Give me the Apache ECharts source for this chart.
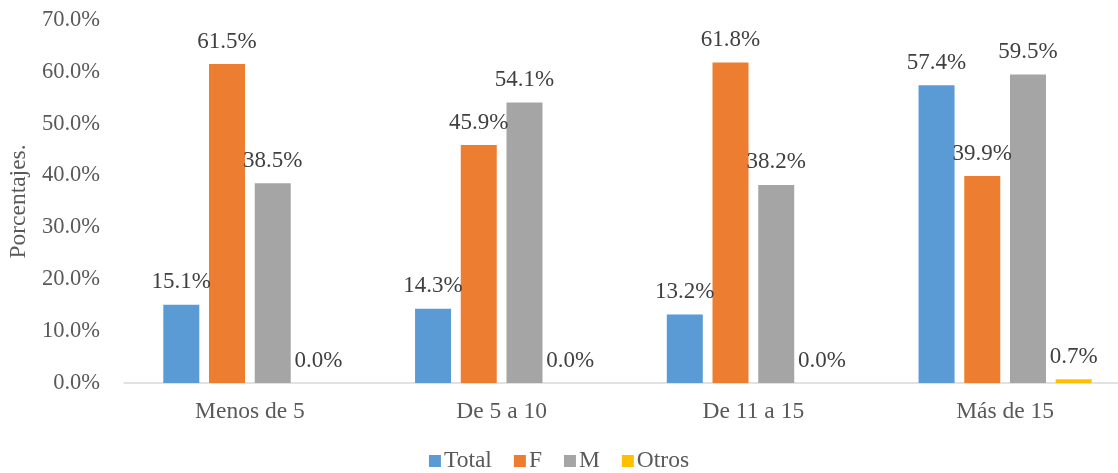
<!DOCTYPE html>
<html>
<head>
<meta charset="utf-8">
<script src="https://cdn.jsdelivr.net/npm/echarts@6/dist/echarts.min.js"></script>
<style>html,body{margin:0;padding:0;background:#fff}#c{width:1118px;height:473px}</style>
</head>
<body>
<div id="c"></div>
<script>
const categories = ['Menos de 5', 'De 5 a 10', 'De 11 a 15', 'Más de 15'];
const seriesNames = ['Total', 'F', 'M', 'Otros'];
const totalValues = [15.1, 14.3, 13.2, 57.4];
const fValues = [61.5, 45.9, 61.8, 39.9];
const mValues = [38.5, 54.1, 38.2, 59.5];
const otrosValues = [0.0, 0.0, 0.0, 0.7];
const yTicks = [0, 10, 20, 30, 40, 50, 60, 70];

const colors = ['#5B9BD5', '#ED7D31', '#A5A5A5', '#FFC000'];
const font = '"Liberation Serif", "Times New Roman", serif';
const allValues = [totalValues, fValues, mValues, otrosValues];

const chart = echarts.init(document.getElementById('c'));
chart.setOption({
  animation: false,
  textStyle: { fontFamily: font },
  grid: { left: 124, top: 20, width: 1007, bottom: 90, containLabel: false, outerBoundsMode: 'none' },
  legend: {
    bottom: -5, left: 'center', itemWidth: 12, itemHeight: 12, itemGap: 22,
    icon: 'rect',
    textStyle: { fontFamily: font, fontSize: 23.5, color: '#595959', padding: [0, 0, 0, -2] },
    data: seriesNames
  },
  xAxis: {
    type: 'category', data: categories,
    axisLine: { lineStyle: { color: '#D9D9D9', width: 1.5 } },
    axisTick: { show: false },
    axisLabel: { fontFamily: font, fontSize: 23.5, color: '#595959', margin: 17 }
  },
  yAxis: {
    type: 'value', min: yTicks[0], max: yTicks[yTicks.length - 1], interval: 10,
    name: 'Porcentajes.', nameLocation: 'middle', nameGap: 88, nameRotate: 90,
    nameTextStyle: { fontFamily: font, fontSize: 23.5, color: '#595959' },
    splitLine: { show: false },
    axisLine: { show: false }, axisTick: { show: false },
    axisLabel: { fontFamily: font, fontSize: 22.5, color: '#595959', margin: 24,
      formatter: v => v.toFixed(1) + '%' }
  },
  series: seriesNames.map((n, i) => ({
    name: n, type: 'bar', data: allValues[i],
    barWidth: 36, barGap: '27%',
    itemStyle: { color: colors[i] },
    label: { show: true, position: 'top', distance: 11,
      fontFamily: font, fontSize: 23, color: '#404040',
      formatter: p => p.value.toFixed(1) + '%' }
  }))
});
</script>
</body>
</html>
